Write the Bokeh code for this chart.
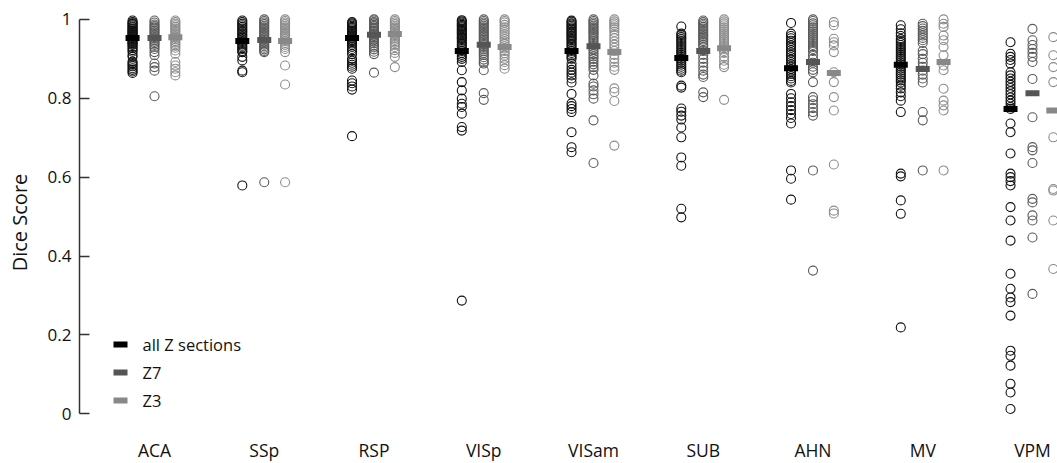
from bokeh.plotting import figure
from bokeh.models import ColumnDataSource, FixedTicker, BoxAnnotation, Label, Range1d
from bokeh.embed import file_html
from bokeh.resources import INLINE

categories = ["ACA", "SSp", "RSP", "VISp", "VISam", "SUB", "AHN", "MV", "VPM"]
series_names = ["all Z sections", "Z7", "Z3"]
series_colors = ["#000000", "#555555", "#888888"]
circle_colors = ["#111111", "#5a5a5a", "#8c8c8c"]
series_offsets = [-0.2, 0.0, 0.19]

# mean values (bars)
mean_all = [0.953, 0.945, 0.953, 0.920, 0.920, 0.902, 0.876, 0.885, 0.773]
mean_z7 = [0.953, 0.948, 0.961, 0.936, 0.932, 0.920, 0.892, 0.874, 0.813]
mean_z3 = [0.955, 0.945, 0.963, 0.930, 0.917, 0.927, 0.864, 0.892, 0.769]

# individual dice scores: all Z sections
all_ACA = [0.997, 0.993, 0.99, 0.988, 0.985, 0.982, 0.98, 0.977, 0.975, 0.972, 0.97, 0.967, 0.965, 0.962, 0.96, 0.957, 0.955, 0.952, 0.95, 0.947, 0.945, 0.942, 0.94, 0.937, 0.935, 0.93, 0.927, 0.922, 0.918, 0.91, 0.905, 0.893, 0.889, 0.885, 0.881, 0.876, 0.872, 0.868, 0.864]
all_SSp = [0.997, 0.993, 0.989, 0.985, 0.981, 0.977, 0.973, 0.969, 0.965, 0.961, 0.957, 0.953, 0.949, 0.945, 0.941, 0.937, 0.933, 0.929, 0.925, 0.92, 0.917, 0.905, 0.896, 0.87, 0.866, 0.579]
all_RSP = [0.993, 0.99, 0.987, 0.984, 0.981, 0.978, 0.975, 0.972, 0.969, 0.966, 0.963, 0.96, 0.957, 0.954, 0.951, 0.948, 0.945, 0.942, 0.939, 0.935, 0.93, 0.925, 0.92, 0.912, 0.9, 0.895, 0.89, 0.885, 0.88, 0.875, 0.845, 0.838, 0.83, 0.822, 0.704]
all_VISp = [0.998, 0.995, 0.992, 0.989, 0.986, 0.983, 0.98, 0.977, 0.974, 0.971, 0.968, 0.965, 0.962, 0.959, 0.956, 0.953, 0.95, 0.946, 0.942, 0.938, 0.934, 0.93, 0.925, 0.92, 0.915, 0.91, 0.905, 0.9, 0.892, 0.871, 0.841, 0.82, 0.799, 0.786, 0.778, 0.761, 0.727, 0.718, 0.287]
all_VISam = [0.997, 0.994, 0.99, 0.987, 0.984, 0.98, 0.977, 0.974, 0.97, 0.967, 0.964, 0.96, 0.957, 0.953, 0.95, 0.946, 0.942, 0.938, 0.934, 0.93, 0.925, 0.92, 0.915, 0.91, 0.905, 0.9, 0.888, 0.88, 0.872, 0.865, 0.858, 0.85, 0.84, 0.811, 0.787, 0.78, 0.773, 0.765, 0.714, 0.676, 0.663]
all_SUB = [0.982, 0.964, 0.96, 0.955, 0.95, 0.945, 0.94, 0.935, 0.93, 0.925, 0.92, 0.915, 0.91, 0.905, 0.9, 0.895, 0.89, 0.885, 0.88, 0.875, 0.87, 0.866, 0.832, 0.827, 0.774, 0.766, 0.756, 0.746, 0.726, 0.701, 0.65, 0.629, 0.52, 0.498]
all_AHN = [0.991, 0.964, 0.958, 0.952, 0.946, 0.94, 0.934, 0.928, 0.922, 0.916, 0.91, 0.904, 0.898, 0.892, 0.886, 0.88, 0.874, 0.868, 0.862, 0.856, 0.85, 0.844, 0.84, 0.811, 0.8, 0.79, 0.78, 0.77, 0.76, 0.75, 0.736, 0.617, 0.596, 0.543]
all_MV = [0.985, 0.975, 0.965, 0.958, 0.95, 0.945, 0.94, 0.935, 0.93, 0.925, 0.92, 0.915, 0.91, 0.905, 0.9, 0.895, 0.89, 0.885, 0.88, 0.875, 0.87, 0.865, 0.86, 0.855, 0.85, 0.845, 0.84, 0.832, 0.825, 0.815, 0.805, 0.794, 0.765, 0.609, 0.602, 0.541, 0.507, 0.219]
all_VPM = [0.942, 0.913, 0.905, 0.897, 0.888, 0.866, 0.858, 0.85, 0.842, 0.834, 0.826, 0.818, 0.81, 0.802, 0.794, 0.786, 0.778, 0.773, 0.736, 0.714, 0.66, 0.609, 0.6, 0.59, 0.579, 0.524, 0.49, 0.439, 0.355, 0.317, 0.295, 0.283, 0.249, 0.16, 0.147, 0.122, 0.076, 0.054, 0.012]

# Z7
z7_ACA = [0.997, 0.992, 0.987, 0.983, 0.979, 0.975, 0.971, 0.967, 0.963, 0.959, 0.955, 0.951, 0.947, 0.943, 0.939, 0.935, 0.93, 0.925, 0.917, 0.909, 0.888, 0.879, 0.87, 0.805]
z7_SSp = [1.0, 0.996, 0.992, 0.988, 0.984, 0.98, 0.976, 0.972, 0.968, 0.964, 0.96, 0.956, 0.952, 0.948, 0.944, 0.94, 0.936, 0.932, 0.928, 0.924, 0.92, 0.917, 0.587]
z7_RSP = [1.0, 0.997, 0.993, 0.99, 0.986, 0.983, 0.979, 0.976, 0.972, 0.969, 0.965, 0.962, 0.958, 0.955, 0.951, 0.947, 0.943, 0.939, 0.934, 0.929, 0.924, 0.918, 0.912, 0.865]
z7_VISp = [1.0, 0.996, 0.992, 0.988, 0.984, 0.98, 0.976, 0.972, 0.968, 0.964, 0.96, 0.956, 0.952, 0.948, 0.944, 0.94, 0.935, 0.93, 0.925, 0.92, 0.915, 0.91, 0.904, 0.898, 0.892, 0.888, 0.871, 0.813, 0.796]
z7_VISam = [1.0, 0.996, 0.992, 0.988, 0.984, 0.98, 0.976, 0.972, 0.968, 0.964, 0.96, 0.955, 0.95, 0.945, 0.94, 0.935, 0.93, 0.924, 0.918, 0.912, 0.906, 0.9, 0.893, 0.886, 0.879, 0.872, 0.858, 0.837, 0.83, 0.82, 0.81, 0.799, 0.744, 0.636]
z7_SUB = [0.997, 0.993, 0.989, 0.985, 0.981, 0.977, 0.973, 0.969, 0.965, 0.961, 0.957, 0.953, 0.949, 0.945, 0.94, 0.935, 0.93, 0.92, 0.91, 0.9, 0.89, 0.88, 0.87, 0.86, 0.854, 0.815, 0.803]
z7_AHN = [1.0, 0.996, 0.99, 0.985, 0.98, 0.975, 0.97, 0.965, 0.96, 0.955, 0.95, 0.945, 0.94, 0.935, 0.93, 0.925, 0.92, 0.91, 0.9, 0.89, 0.88, 0.872, 0.866, 0.841, 0.803, 0.795, 0.785, 0.775, 0.765, 0.756, 0.617, 0.363]
z7_MV = [0.989, 0.983, 0.977, 0.971, 0.965, 0.959, 0.953, 0.947, 0.94, 0.92, 0.912, 0.9, 0.89, 0.88, 0.87, 0.86, 0.85, 0.84, 0.765, 0.744, 0.617]
z7_VPM = [0.976, 0.947, 0.935, 0.925, 0.915, 0.905, 0.892, 0.849, 0.752, 0.676, 0.668, 0.636, 0.545, 0.536, 0.503, 0.49, 0.447, 0.304]

# Z3
z3_ACA = [0.997, 0.993, 0.989, 0.985, 0.981, 0.977, 0.973, 0.969, 0.965, 0.961, 0.957, 0.953, 0.949, 0.945, 0.941, 0.937, 0.933, 0.928, 0.921, 0.913, 0.892, 0.883, 0.875, 0.866, 0.858]
z3_SSp = [1.0, 0.996, 0.992, 0.988, 0.984, 0.98, 0.976, 0.972, 0.968, 0.964, 0.96, 0.955, 0.95, 0.945, 0.94, 0.935, 0.93, 0.925, 0.917, 0.883, 0.835, 0.587]
z3_RSP = [1.0, 0.996, 0.992, 0.988, 0.984, 0.98, 0.976, 0.972, 0.968, 0.964, 0.96, 0.956, 0.952, 0.948, 0.944, 0.94, 0.935, 0.93, 0.922, 0.915, 0.905, 0.879]
z3_VISp = [1.0, 0.996, 0.992, 0.986, 0.98, 0.974, 0.968, 0.962, 0.956, 0.95, 0.944, 0.938, 0.932, 0.926, 0.92, 0.914, 0.908, 0.9, 0.892, 0.884, 0.875]
z3_VISam = [1.0, 0.995, 0.99, 0.985, 0.98, 0.975, 0.968, 0.96, 0.952, 0.944, 0.936, 0.928, 0.92, 0.91, 0.9, 0.89, 0.88, 0.872, 0.825, 0.816, 0.793, 0.68]
z3_SUB = [1.0, 0.995, 0.99, 0.985, 0.98, 0.975, 0.97, 0.965, 0.96, 0.955, 0.95, 0.945, 0.94, 0.935, 0.93, 0.925, 0.92, 0.915, 0.905, 0.895, 0.885, 0.879, 0.796]
z3_AHN = [0.993, 0.985, 0.951, 0.942, 0.934, 0.917, 0.866, 0.841, 0.803, 0.769, 0.632, 0.515, 0.508]
z3_MV = [1.0, 0.989, 0.981, 0.959, 0.947, 0.93, 0.909, 0.883, 0.871, 0.824, 0.794, 0.782, 0.769, 0.617]
z3_VPM = [0.955, 0.909, 0.879, 0.841, 0.701, 0.57, 0.566, 0.49, 0.367]

series_points = [
    [all_ACA, all_SSp, all_RSP, all_VISp, all_VISam, all_SUB, all_AHN, all_MV, all_VPM],
    [z7_ACA, z7_SSp, z7_RSP, z7_VISp, z7_VISam, z7_SUB, z7_AHN, z7_MV, z7_VPM],
    [z3_ACA, z3_SSp, z3_RSP, z3_VISp, z3_VISam, z3_SUB, z3_AHN, z3_MV, z3_VPM],
]
series_means = [mean_all, mean_z7, mean_z3]

y_ticks = [0, 0.2, 0.4, 0.6, 0.8, 1]
y_tick_labels = ["0", "0.2", "0.4", "0.6", "0.8", "1"]

FONT = "Open Sans"

p = figure(
    frame_width=978, frame_height=422,
    x_range=Range1d(0.3166, 9.228), y_range=Range1d(-0.05, 1.02),
    output_backend="svg", toolbar_location=None,
    min_border_left=79, min_border_right=0, min_border_top=11, min_border_bottom=10,
)
p.outline_line_color = None
p.grid.visible = False
p.background_fill_color = "white"

# points and mean bars
for si in range(3):
    xs, ys = [], []
    for ci, vals in enumerate(series_points[si]):
        xs += [ci + 1 + series_offsets[si]] * len(vals)
        ys += vals
    src = ColumnDataSource(dict(x=xs, y=ys))
    p.scatter("x", "y", source=src, marker="circle", size=9, fill_color=None,
              line_color=circle_colors[si], line_width=1.1)

for si in range(3):
    msrc = ColumnDataSource(dict(x=[i + 1 + series_offsets[si] for i in range(len(categories))],
                                 y=series_means[si]))
    p.rect("x", "y", source=msrc, width=14, height=6, width_units="screen",
           height_units="screen", fill_color=series_colors[si], line_color=None)

# axes
xa = p.xaxis[0]
xa.ticker = FixedTicker(ticks=list(range(1, len(categories) + 1)))
xa.major_label_overrides = {i + 1: c for i, c in enumerate(categories)}
xa.axis_line_color = None
xa.major_tick_line_color = None
xa.major_tick_in = 0
xa.major_tick_out = 0
xa.minor_tick_line_color = None
xa.major_label_standoff = 4
xa.major_label_text_font = FONT
xa.major_label_text_font_size = "17.5px"
xa.major_label_text_color = "#111111"

ya = p.yaxis[0]
ya.ticker = FixedTicker(ticks=y_ticks)
ya.major_label_overrides = {t: l for t, l in zip(y_ticks, y_tick_labels)}
ya.bounds = (0, 1)
ya.axis_line_color = "#333333"
ya.axis_line_width = 1.5
ya.major_tick_line_color = "#333333"
ya.major_tick_line_width = 1.5
ya.major_tick_in = 10
ya.major_tick_out = 0
ya.minor_tick_line_color = None
ya.major_label_standoff = 8
ya.major_label_text_font = FONT
ya.major_label_text_font_size = "17px"
ya.major_label_text_color = "#111111"
ya.axis_label = "Dice Score"
ya.axis_label_text_font = FONT
ya.axis_label_text_font_size = "20px"
ya.axis_label_text_font_style = "normal"
ya.axis_label_text_color = "#111111"
ya.axis_label_standoff = 12

# legend (screen units relative to frame bottom-left)
legend_rows_y = [89, 61, 33]
for si in range(3):
    yc = legend_rows_y[si]
    p.add_layout(BoxAnnotation(left=34, right=48, bottom=yc - 3, top=yc + 3,
                               left_units="screen", right_units="screen",
                               bottom_units="screen", top_units="screen",
                               fill_color=series_colors[si], fill_alpha=1.0,
                               line_color=None))
    p.add_layout(Label(x=63, y=yc, x_units="screen", y_units="screen",
                       text=series_names[si], text_baseline="middle",
                       text_font=FONT, text_font_size="16.5px", text_color="#111111"))

open("out.html", "w").write(file_html(p, INLINE))
